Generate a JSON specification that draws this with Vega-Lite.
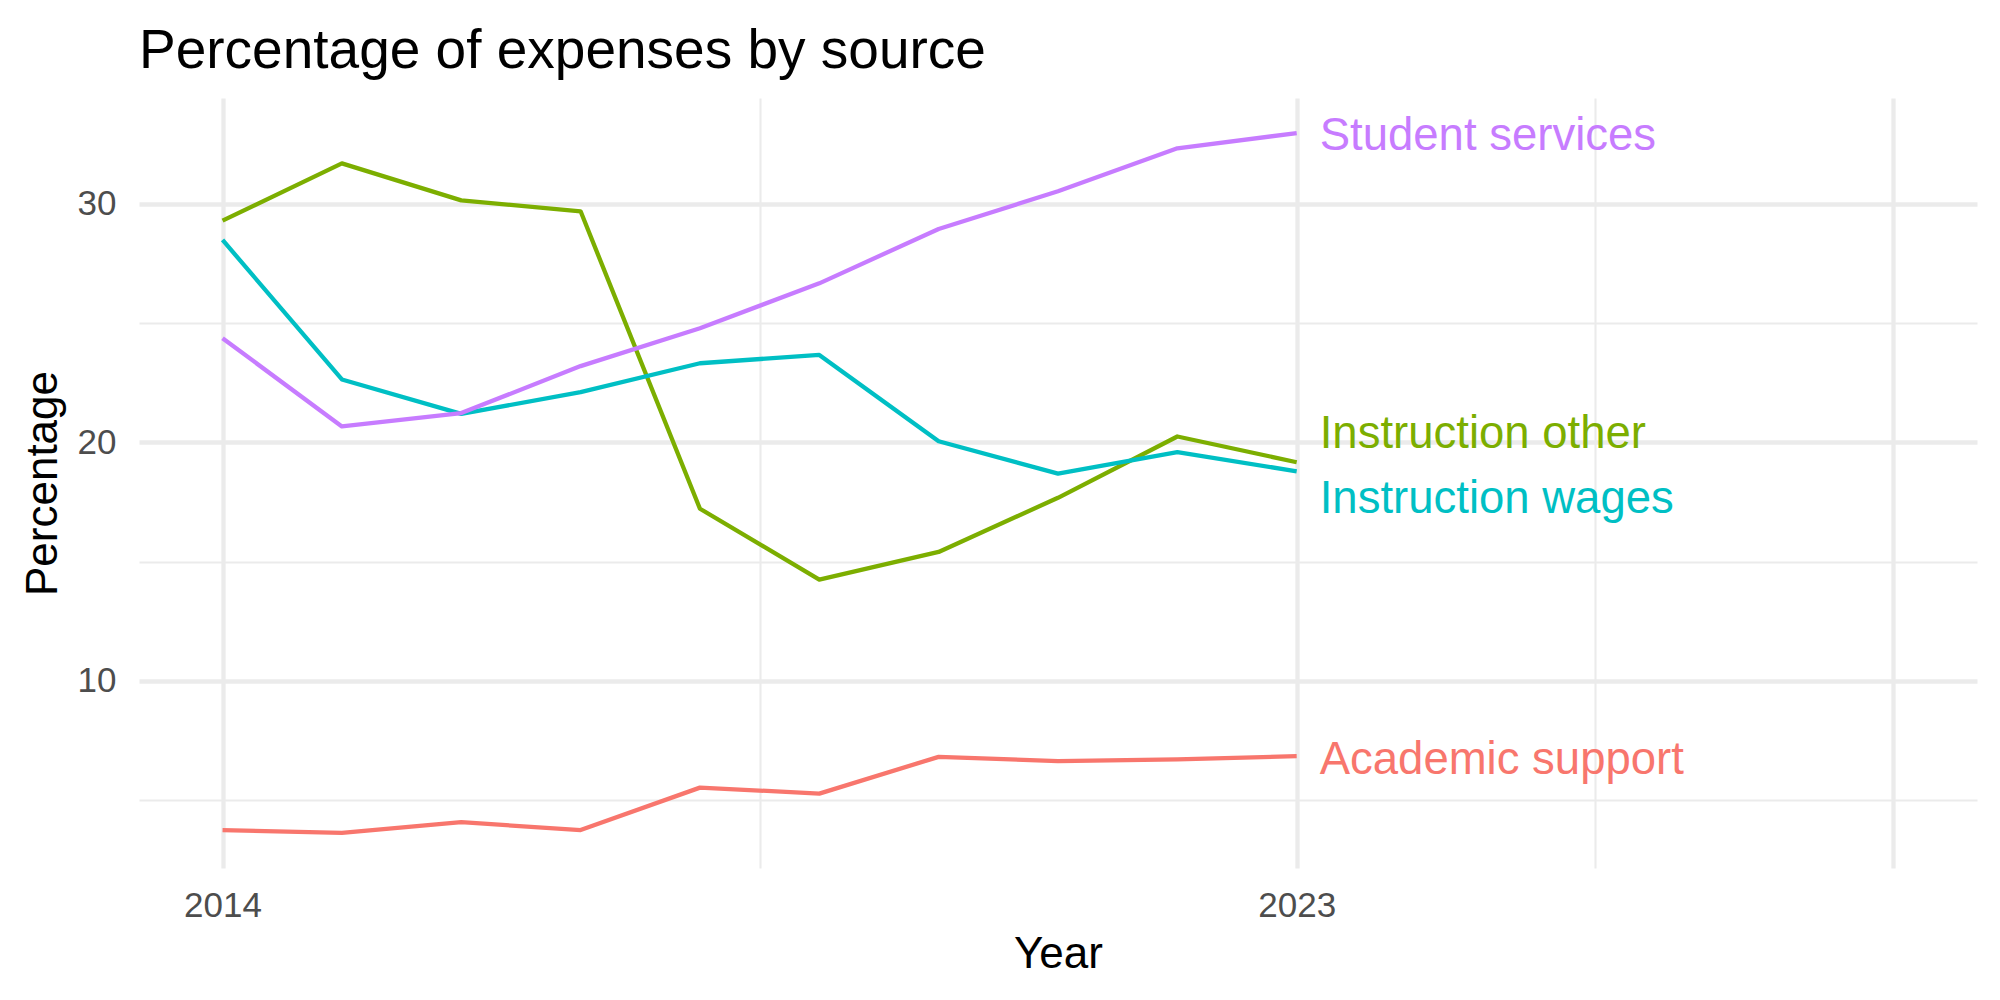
{
  "$schema": "https://vega.github.io/schema/vega-lite/v6.json",
  "width": 1838,
  "height": 770,
  "autosize": {"type": "none"},
  "padding": {"left": 139, "top": 98, "right": 23, "bottom": 132},
  "background": "white",
  "title": {
    "text": "Percentage of expenses by source",
    "anchor": "start",
    "frame": "group",
    "font": "Liberation Sans",
    "fontSize": 55,
    "fontWeight": "normal",
    "color": "black",
    "baseline": "alphabetic",
    "offset": 34,
    "dy": 59
  },
  "config": {
    "view": {"stroke": null},
    "font": "Liberation Sans"
  },
  "datasets": {
    "series": [
      {"year": 2014, "source": "Academic support", "value": 3.75},
      {"year": 2015, "source": "Academic support", "value": 3.63},
      {"year": 2016, "source": "Academic support", "value": 4.08},
      {"year": 2017, "source": "Academic support", "value": 3.75},
      {"year": 2018, "source": "Academic support", "value": 5.53},
      {"year": 2019, "source": "Academic support", "value": 5.28},
      {"year": 2020, "source": "Academic support", "value": 6.82},
      {"year": 2021, "source": "Academic support", "value": 6.64},
      {"year": 2022, "source": "Academic support", "value": 6.71},
      {"year": 2023, "source": "Academic support", "value": 6.85},
      {"year": 2014, "source": "Instruction other", "value": 29.30},
      {"year": 2015, "source": "Instruction other", "value": 31.70},
      {"year": 2016, "source": "Instruction other", "value": 30.15},
      {"year": 2017, "source": "Instruction other", "value": 29.69},
      {"year": 2018, "source": "Instruction other", "value": 17.22},
      {"year": 2019, "source": "Instruction other", "value": 14.25},
      {"year": 2020, "source": "Instruction other", "value": 15.41},
      {"year": 2021, "source": "Instruction other", "value": 17.68},
      {"year": 2022, "source": "Instruction other", "value": 20.25},
      {"year": 2023, "source": "Instruction other", "value": 19.17},
      {"year": 2014, "source": "Instruction wages", "value": 28.49},
      {"year": 2015, "source": "Instruction wages", "value": 22.64},
      {"year": 2016, "source": "Instruction wages", "value": 21.20},
      {"year": 2017, "source": "Instruction wages", "value": 22.11},
      {"year": 2018, "source": "Instruction wages", "value": 23.32},
      {"year": 2019, "source": "Instruction wages", "value": 23.67},
      {"year": 2020, "source": "Instruction wages", "value": 20.05},
      {"year": 2021, "source": "Instruction wages", "value": 18.69},
      {"year": 2022, "source": "Instruction wages", "value": 19.59},
      {"year": 2023, "source": "Instruction wages", "value": 18.79},
      {"year": 2014, "source": "Student services", "value": 24.37},
      {"year": 2015, "source": "Student services", "value": 20.67},
      {"year": 2016, "source": "Student services", "value": 21.23},
      {"year": 2017, "source": "Student services", "value": 23.20},
      {"year": 2018, "source": "Student services", "value": 24.79},
      {"year": 2019, "source": "Student services", "value": 26.67},
      {"year": 2020, "source": "Student services", "value": 28.95},
      {"year": 2021, "source": "Student services", "value": 30.53},
      {"year": 2022, "source": "Student services", "value": 32.33},
      {"year": 2023, "source": "Student services", "value": 32.97}
    ],
    "labels": [
      {"year": 2023, "source": "Academic support", "label_value": 6.80},
      {"year": 2023, "source": "Instruction other", "label_value": 20.47},
      {"year": 2023, "source": "Instruction wages", "label_value": 17.76},
      {"year": 2023, "source": "Student services", "label_value": 32.99}
    ]
  },
  "layer": [
    {
      "data": {"name": "series"},
      "mark": {"type": "line", "strokeWidth": 4.3, "strokeJoin": "round", "strokeCap": "butt"},
      "encoding": {
        "x": {
          "field": "year",
          "type": "quantitative",
          "scale": {"domain": [2013.3, 2028.7], "nice": false, "zero": false},
          "axis": {
            "title": "Year",
            "values": [2014, 2018.5, 2023, 2025.5, 2028],
            "format": "d",
            "labelExpr": "datum.value == 2014 || datum.value == 2023 ? datum.label : ''",
            "domain": false,
            "ticks": false,
            "tickSize": 0,
            "labelPadding": 20,
            "labelFont": "Liberation Sans",
            "labelFontSize": 35,
            "labelColor": "#4D4D4D",
            "labelFlush": false,
            "labelOverlap": false,
            "grid": true,
            "gridColor": "#EBEBEB",
            "gridWidth": {"condition": {"test": "datum.value == 2018.5 || datum.value == 2025.5", "value": 2.1}, "value": 4.3},
            "titleFont": "Liberation Sans",
            "titleFontSize": 44,
            "titleFontWeight": "normal",
            "titleColor": "black",
            "titleBaseline": "alphabetic",
            "titleY": 99,
            "titleX": 919,
            "titleAnchor": "middle"
          }
        },
        "y": {
          "field": "value",
          "type": "quantitative",
          "scale": {"domain": [2.16, 34.44], "nice": false, "zero": false},
          "axis": {
            "title": "Percentage",
            "values": [5, 10, 15, 20, 25, 30],
            "labelExpr": "datum.value % 10 == 0 ? datum.label : ''",
            "domain": false,
            "ticks": false,
            "tickSize": 0,
            "labelPadding": 23,
            "labelFont": "Liberation Sans",
            "labelFontSize": 35,
            "labelColor": "#4D4D4D",
            "labelOverlap": false,
            "labelFlush": false,
            "grid": true,
            "gridColor": "#EBEBEB",
            "gridWidth": {"condition": {"test": "datum.value % 10 != 0", "value": 2.1}, "value": 4.3},
            "titleFont": "Liberation Sans",
            "titleFontSize": 44,
            "titleFontWeight": "normal",
            "titleColor": "black",
            "titleAngle": -90,
            "titleBaseline": "alphabetic",
            "titleX": -83,
            "titleY": 385,
            "titleAnchor": "middle"
          }
        },
        "color": {
          "field": "source",
          "type": "nominal",
          "scale": {
            "domain": ["Academic support", "Instruction other", "Instruction wages", "Student services"],
            "range": ["#F8766D", "#7CAE00", "#00BFC4", "#C77CFF"]
          },
          "legend": null
        }
      }
    },
    {
      "data": {"name": "labels"},
      "mark": {"type": "text", "align": "left", "baseline": "middle", "dx": 23, "dy": 3, "font": "Liberation Sans", "fontSize": 45.5},
      "encoding": {
        "x": {"field": "year", "type": "quantitative"},
        "y": {"field": "label_value", "type": "quantitative"},
        "text": {"field": "source"},
        "color": {"field": "source", "type": "nominal", "legend": null}
      }
    }
  ]
}
